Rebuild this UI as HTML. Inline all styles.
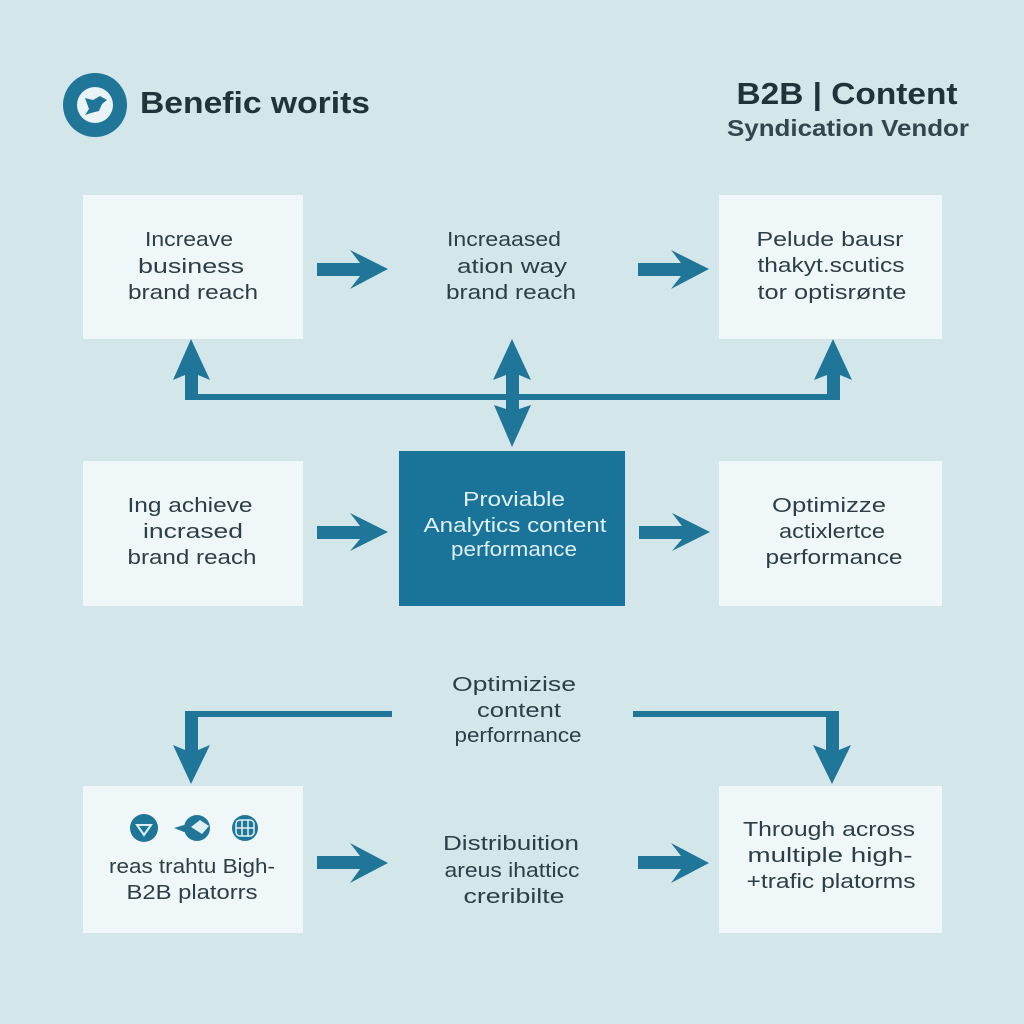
<!DOCTYPE html>
<html><head><meta charset="utf-8"><style>
html,body{margin:0;padding:0;background:#d3e6ea}
svg{display:block}
text{font-family:"Liberation Sans",sans-serif;fill:#2c3e47;font-size:20px;text-anchor:middle}
.w{fill:#dff0f4}
</style></head><body>
<svg width="1024" height="1024" viewBox="0 0 1024 1024" xmlns="http://www.w3.org/2000/svg">
<rect width="1024" height="1024" fill="#d3e6ea"/>
<!-- header -->
<circle cx="95" cy="105" r="32" fill="#1f7699"/>
<circle cx="95" cy="105" r="18" fill="#eaf4f6"/>
<path d="M85 98 L93 100 L100 96 L107 100 L102 104 L99 111 L91 113 L85 115 L89 109 Z" fill="#1f7699"/>
<text x="255" y="113" style="font-size:31px;font-weight:bold;fill:#22323a" textLength="230" lengthAdjust="spacingAndGlyphs">Benefic worits</text>
<text x="847" y="104" style="font-size:31px;font-weight:bold;fill:#22323a" textLength="221" lengthAdjust="spacingAndGlyphs">B2B | Content</text>
<text x="848" y="136" style="font-size:23px;font-weight:bold;fill:#33454e" textLength="242" lengthAdjust="spacingAndGlyphs">Syndication Vendor</text>
<!-- boxes -->
<g fill="#eff7f8">
<rect x="83" y="195" width="220" height="144"/>
<rect x="719" y="195" width="223" height="144"/>
<rect x="83" y="461" width="220" height="145"/>
<rect x="719" y="461" width="223" height="145"/>
<rect x="83" y="786" width="220" height="147"/>
<rect x="719" y="786" width="223" height="147"/>
</g>
<rect x="399" y="451" width="226" height="155" fill="#1a7399"/>
<!-- connectors -->
<g fill="#1f7699">
<!-- horizontal arrows -->
<path id="a" d="M317 263H360L350 250L388 269L350 289L360 276H317Z"/>
<path d="M638 263H681L671 250L709 269L671 289L681 276H638Z"/>
<path d="M317 526H360L350 513L388 532L350 551L360 539H317Z"/>
<path d="M639 526H682L672 513L710 532L672 551L682 539H639Z"/>
<path d="M317 856H360L350 843L388 863L350 883L360 869H317Z"/>
<path d="M638 856H681L671 843L709 863L671 883L681 869H638Z"/>
<!-- T bus -->
<rect x="185" y="394" width="654" height="6"/>
<path d="M191 339L210 380L198 375V400H185V375L173 380Z"/>
<path d="M833 339L852 380L840 375V400H827V375L814 380Z"/>
<path d="M512 339L531 380L519 375V409L531 405L512 447L494 405L506 409V375L493 380Z"/>
<!-- lower elbows -->
<path d="M392 711V717H198V750L210 745L191 784L173 745L185 750V711Z"/>
<path d="M633 711V717H826V750L813 745L832 784L851 745L839 750V711Z"/>
</g>
<!-- row 1 text -->
<text x="189" y="246" textLength="88" lengthAdjust="spacingAndGlyphs">Increave</text>
<text x="191" y="273" textLength="106" lengthAdjust="spacingAndGlyphs">business</text>
<text x="193" y="299" textLength="130" lengthAdjust="spacingAndGlyphs">brand reach</text>
<text x="504" y="246" textLength="114" lengthAdjust="spacingAndGlyphs">Increaased</text>
<text x="512" y="273" textLength="110" lengthAdjust="spacingAndGlyphs">ation way</text>
<text x="511" y="299" textLength="130" lengthAdjust="spacingAndGlyphs">brand reach</text>
<text x="830" y="246" textLength="147" lengthAdjust="spacingAndGlyphs">Pelude bausr</text>
<text x="831" y="272" textLength="147" lengthAdjust="spacingAndGlyphs">thakyt.scutics</text>
<text x="832" y="299" textLength="149" lengthAdjust="spacingAndGlyphs">tor optisrønte</text>
<!-- row 2 text -->
<text x="190" y="512" textLength="125" lengthAdjust="spacingAndGlyphs">Ing achieve</text>
<text x="193" y="538" textLength="100" lengthAdjust="spacingAndGlyphs">incrased</text>
<text x="192" y="564" textLength="129" lengthAdjust="spacingAndGlyphs">brand reach</text>
<text class="w" x="514" y="506" textLength="102" lengthAdjust="spacingAndGlyphs">Proviable</text>
<text class="w" x="515" y="532" textLength="183" lengthAdjust="spacingAndGlyphs">Analytics content</text>
<text class="w" x="514" y="556" textLength="126" lengthAdjust="spacingAndGlyphs">performance</text>
<text x="829" y="512" textLength="114" lengthAdjust="spacingAndGlyphs">Optimizze</text>
<text x="832" y="538" textLength="106" lengthAdjust="spacingAndGlyphs">actixlertce</text>
<text x="834" y="564" textLength="137" lengthAdjust="spacingAndGlyphs">performance</text>
<!-- middle label -->
<text x="514" y="691" textLength="124" lengthAdjust="spacingAndGlyphs">Optimizise</text>
<text x="519" y="717" textLength="84" lengthAdjust="spacingAndGlyphs">content</text>
<text x="518" y="742" textLength="127" lengthAdjust="spacingAndGlyphs">perforrnance</text>
<!-- bottom row -->
<circle cx="144" cy="828" r="14" fill="#1f7699"/>
<path d="M137 825L151 825L144 835Z" fill="none" stroke="#dff0f4" stroke-width="2"/>
<circle cx="197" cy="828" r="13" fill="#1f7699"/>
<path d="M174 828L184 825L190 829L184 832Z" fill="#1f7699"/>
<path d="M191 827L200 820L209 826L202 834Z" fill="#dff0f4"/>
<circle cx="245" cy="828" r="13" fill="#1f7699"/>
<rect x="236" y="820" width="18" height="16" rx="4" fill="none" stroke="#dff0f4" stroke-width="1.5"/>
<path d="M242 820V836M248 820V836M236 828H254" stroke="#dff0f4" stroke-width="1.5"/>
<text x="192" y="873" textLength="166" lengthAdjust="spacingAndGlyphs">reas trahtu Bigh-</text>
<text x="192" y="899" textLength="131" lengthAdjust="spacingAndGlyphs">B2B platorrs</text>
<text x="511" y="850" textLength="136" lengthAdjust="spacingAndGlyphs">Distribuition</text>
<text x="512" y="877" textLength="135" lengthAdjust="spacingAndGlyphs">areus ihatticc</text>
<text x="514" y="903" textLength="101" lengthAdjust="spacingAndGlyphs">creribilte</text>
<text x="829" y="836" textLength="172" lengthAdjust="spacingAndGlyphs">Through across</text>
<text x="830" y="862" textLength="165" lengthAdjust="spacingAndGlyphs">multiple high-</text>
<text x="831" y="888" textLength="169" lengthAdjust="spacingAndGlyphs">+trafic platorms</text>
</svg>
</body></html>
